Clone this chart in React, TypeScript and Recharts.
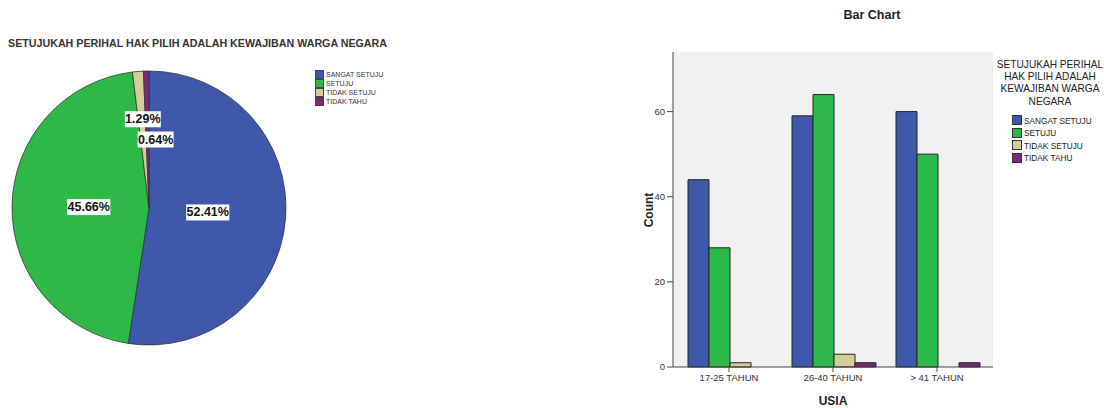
import React from 'react'
import {
  PieChart, Pie, Cell,
  BarChart, Bar, XAxis, YAxis, CartesianGrid
} from 'recharts'

// answer categories (legend order)
const answers = ['SANGAT SETUJU', 'SETUJU', 'TIDAK SETUJU', 'TIDAK TAHU']
const COLORS = ['#3e58ac', '#2eb848', '#d3ce97', '#7c287d']

// pie totals per answer
const pieValues = [163, 142, 4, 2]

// bar chart: counts per age group
const ageGroups = ['17-25 TAHUN', '26-40 TAHUN', '> 41 TAHUN']
const sangatSetuju = [44, 59, 60]
const setuju = [28, 64, 50]
const tidakSetuju = [1, 3, 0]
const tidakTahu = [0, 1, 1]
const yTicks = [0, 20, 40, 60]

const pieTitle = 'SETUJUKAH PERIHAL HAK PILIH ADALAH KEWAJIBAN WARGA NEGARA'
const legendTitle = ['SETUJUKAH PERIHAL', 'HAK PILIH ADALAH', 'KEWAJIBAN WARGA', 'NEGARA']

const FONT = '"Liberation Sans", Arial, sans-serif'
const RAD = Math.PI / 180

const pieData = answers.map((name, i) => ({ name, value: pieValues[i] }))
const total = pieValues.reduce((a, b) => a + b, 0)

const barData = ageGroups.map((g, i) => ({
  name: g,
  s0: sangatSetuju[i],
  s1: setuju[i],
  s2: tidakSetuju[i],
  s3: tidakTahu[i],
}))

// label radius (fraction of outer radius) and x nudge per slice
const labelR = [0.43, 0.44, 0.65, 0.5]
const labelDx = [0, 0, 1, 8]

function PieLabel(props: any) {
  const { cx, cy, midAngle, outerRadius, index, value } = props
  const r = outerRadius * labelR[index]
  const x = cx + r * Math.cos(-midAngle * RAD) + labelDx[index]
  const y = cy + r * Math.sin(-midAngle * RAD)
  const txt = ((value / total) * 100).toFixed(2) + '%'
  const w = txt.length * 7.2
  return (
    <g>
      <rect x={x - w / 2} y={y - 8} width={w} height={16} fill="#ffffff" />
      <text x={x} y={y} textAnchor="middle" dominantBaseline="central"
        fontFamily={FONT} fontWeight="bold" fontSize={12.5} fill="#111">{txt}</text>
    </g>
  )
}

export default function App() {
  return (
    <div style={{ position: 'absolute', left: 0, top: 0, width: 1104, height: 408, background: '#fff', fontFamily: FONT, overflow: 'hidden' }}>
      {/* pie */}
      <div style={{ position: 'absolute', left: 8, top: 37, fontSize: 10.7, fontWeight: 'bold', color: '#333', whiteSpace: 'nowrap' }}>
        {pieTitle}
      </div>
      <div style={{ position: 'absolute', left: 0, top: 0 }}>
        <PieChart width={300} height={408}>
          <Pie data={pieData} dataKey="value" nameKey="name" cx={144} cy={203}
            outerRadius={137} startAngle={90} endAngle={-270}
            stroke="#333" strokeWidth={0.8}
            label={PieLabel} labelLine={false} isAnimationActive={false}>
            {pieData.map((_, i) => <Cell key={i} fill={COLORS[i]} />)}
          </Pie>
        </PieChart>
      </div>
      <div style={{ position: 'absolute', left: 315, top: 70 }}>
        {answers.map((a, i) => (
          <div key={a} style={{ display: 'flex', alignItems: 'center', height: 9, fontSize: 7, color: '#333' }}>
            <span style={{ width: 7, height: 7, background: COLORS[i], border: '0.5px solid #444', marginRight: 2 }} />
            {a}
          </div>
        ))}
      </div>

      {/* bar */}
      <div style={{ position: 'absolute', left: 630, top: 8, width: 484, textAlign: 'center', fontSize: 12.5, fontWeight: 'bold', color: '#222' }}>
        Bar Chart
      </div>
      <div style={{ position: 'absolute', left: 630, top: 0 }}>
        <BarChart width={474} height={408} data={barData}
          margin={{ top: 52, right: 111, bottom: 0, left: 0 }}
          barCategoryGap={11} barGap={0}>
          <CartesianGrid horizontal={false} vertical={false} fill="#f0f0f0" />
          <XAxis dataKey="name" height={41} padding={{ left: 4, right: 4 }}
            tick={{ fontSize: 9.5, fill: '#333', fontFamily: FONT }} tickSize={5}
            stroke="#444" tickLine={{ stroke: '#444' }} interval={0} />
          <XAxis xAxisId="top" dataKey="name" orientation="top" height={0}
            tick={false} tickLine={false} stroke="#555" />
          <YAxis domain={[0, 74]} ticks={yTicks} width={43} tickSize={6}
            tick={{ fontSize: 9.5, fill: '#333', fontFamily: FONT }} stroke="#444" interval={0} />
          <YAxis yAxisId="right" orientation="right" domain={[0, 74]} width={0}
            tick={false} tickLine={false} stroke="#555" />
          <Bar dataKey="s0" name={answers[0]} fill={COLORS[0]} stroke="#222" strokeWidth={1} isAnimationActive={false} />
          <Bar dataKey="s1" name={answers[1]} fill={COLORS[1]} stroke="#222" strokeWidth={1} isAnimationActive={false} />
          <Bar dataKey="s2" name={answers[2]} fill={COLORS[2]} stroke="#222" strokeWidth={1} isAnimationActive={false} />
          <Bar dataKey="s3" name={answers[3]} fill={COLORS[3]} stroke="#222" strokeWidth={1} isAnimationActive={false} />
        </BarChart>
      </div>
      <div style={{ position: 'absolute', left: 649, top: 210, transform: 'translate(-50%, -50%) rotate(-90deg)', fontSize: 12, fontWeight: 'bold', color: '#222' }}>
        Count
      </div>
      <div style={{ position: 'absolute', left: 833, top: 401, transform: 'translate(-50%, -50%)', fontSize: 12, fontWeight: 'bold', color: '#222' }}>
        USIA
      </div>
      <div style={{ position: 'absolute', left: 1050, top: 58, transform: 'translateX(-50%) scaleX(0.88)', textAlign: 'center', fontSize: 11.5, lineHeight: '12.2px', color: '#222', whiteSpace: 'nowrap' }}>
        {legendTitle.map(l => <div key={l}>{l}</div>)}
      </div>
      <div style={{ position: 'absolute', left: 1012, top: 114 }}>
        {answers.map((a, i) => (
          <div key={a} style={{ display: 'flex', alignItems: 'center', height: 12.5, fontSize: 9.5, color: '#222', whiteSpace: 'nowrap' }}>
            <span style={{ width: 8, height: 8, background: COLORS[i], border: '0.5px solid #333', marginRight: 2, flexShrink: 0 }} />
            <span style={{ display: 'inline-block', transform: 'scaleX(0.87)', transformOrigin: 'left center' }}>{a}</span>
          </div>
        ))}
      </div>
    </div>
  )
}
